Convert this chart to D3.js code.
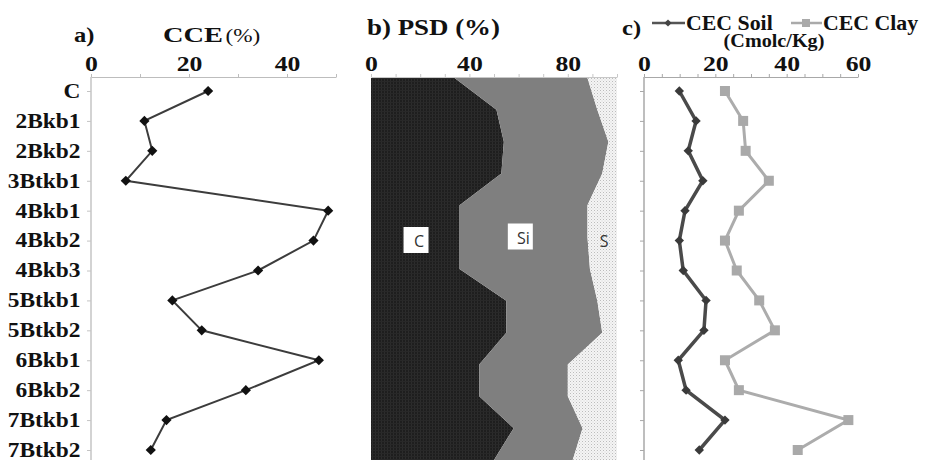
<!DOCTYPE html>
<html>
<head>
<meta charset="utf-8">
<script src="https://cdn.jsdelivr.net/npm/d3@7"></script>
<style>
  html, body { margin: 0; padding: 0; background: #fff; }
  svg { display: block; }
  .lbl { font-family: "Liberation Serif", "Times New Roman", serif; font-weight: bold; fill: #111; }
</style>
</head>
<body>
<svg id="chart" width="928" height="460"></svg>
<script>
// Soil horizons (depth order, top to bottom)
const horizons = ["C", "2Bkb1", "2Bkb2", "3Btkb1", "4Bkb1", "4Bkb2", "4Bkb3",
                  "5Btkb1", "5Btkb2", "6Bkb1", "6Bkb2", "7Btkb1", "7Btkb2"];

// a) Calcium carbonate equivalent (%)
const cce = [23.9, 10.9, 12.5, 7.1, 48.4, 45.4, 34.1, 16.6, 22.6, 46.5, 31.6, 15.4, 12.2];

// b) Particle size distribution (%): clay, silt, sand
const clay = [34, 51, 54, 53, 36, 36, 36, 55, 55, 44, 44, 58, 50];
const silt = [54, 41, 42.5, 41, 52, 52, 53, 37, 39, 36, 36, 28, 32];
const sand = [12, 8, 3.5, 6, 12, 12, 11, 8, 6, 20, 20, 14, 18];
const psdKeys = ["C", "Si", "S"];

// c) Cation exchange capacity (Cmolc/Kg)
const cecSoil = [9.9, 14.6, 12.4, 16.5, 11.5, 9.9, 11.0, 17.4, 16.8, 9.6, 11.8, 22.7, 15.5];
const cecClay = [22.7, 27.8, 28.5, 35.0, 26.6, 22.7, 26.0, 32.3, 36.7, 22.7, 26.6, 57.3, 43.1];

// Tick values
const cceTicks = [0, 10, 20, 30, 40, 50];
const psdTicks = [0, 10, 20, 30, 40, 50, 60, 70, 80, 90, 100];
const cecTicks = [0, 5, 10, 15, 20, 25, 30, 35, 40, 45, 50, 55, 60];

const SX = 1.17;             // horizontal stretch applied to serif labels
const svg = d3.select("#chart");
const defs = svg.append("defs");

// textures for the stacked areas
const pClay = defs.append("pattern").attr("id", "pClay")
  .attr("patternUnits", "userSpaceOnUse").attr("width", 3).attr("height", 3);
pClay.append("rect").attr("width", 3).attr("height", 3).attr("fill", "#1e1e1e");
pClay.append("rect").attr("width", 1).attr("height", 3).attr("fill", "#2c2c2c");
pClay.append("rect").attr("width", 3).attr("height", 1).attr("fill", "#282828");

const pSand = defs.append("pattern").attr("id", "pSand")
  .attr("patternUnits", "userSpaceOnUse").attr("width", 3).attr("height", 3);
pSand.append("rect").attr("width", 3).attr("height", 3).attr("fill", "#f4f4f4");
pSand.append("rect").attr("x", 0).attr("y", 0).attr("width", 1).attr("height", 1).attr("fill", "#bcbcbc");
pSand.append("rect").attr("x", 1.5).attr("y", 1.5).attr("width", 1).attr("height", 1).attr("fill", "#d4d4d4");

function label(sel, x, y, str, size, anchor, sx) {
  return sel.append("text")
    .attr("class", "lbl")
    .attr("transform", `translate(${x},${y}) scale(${sx || SX},1)`)
    .attr("text-anchor", anchor || "start")
    .attr("font-size", size)
    .text(str);
}

function styleTopAxis(g, color) {
  g.select(".domain").attr("stroke", color);
  g.selectAll(".tick line").attr("stroke", color);
  g.selectAll(".tick text")
    .attr("class", "lbl")
    .attr("font-size", 22)
    .attr("fill", "#111")
    .attr("transform", `scale(${SX},1)`);
}

const AXIS_Y = 77;
const rowY = d3.scalePoint().domain(horizons).range([91, 450]);

// ---------- a) CCE ----------
const xA = d3.scaleLinear().domain([0, 50]).range([91, 336]);

label(svg, 74, 42, "a)", 21);
const tA = svg.append("text").attr("class", "lbl")
  .attr("transform", `translate(163,42) scale(${SX + 0.12},1)`).attr("font-size", 22);
tA.append("tspan").text("CCE");
tA.append("tspan").attr("font-weight", "normal").attr("font-size", 18).attr("dx", 2).text("(%)");

svg.append("g").attr("transform", `translate(0,${AXIS_Y})`)
  .call(d3.axisTop(xA).tickValues(cceTicks).tickSize(3).tickSizeOuter(0).tickPadding(3)
    .tickFormat(d => d % 20 === 0 ? d : ""))
  .call(g => styleTopAxis(g, "#bdbdbd"));

svg.append("line").attr("x1", 91).attr("x2", 91).attr("y1", AXIS_Y).attr("y2", 470)
  .attr("stroke", "#c4c4c4").attr("stroke-width", 1.5);

const yAxA = svg.append("g").attr("transform", "translate(91,0)")
  .call(d3.axisLeft(rowY).tickSize(4).tickSizeOuter(0).tickPadding(5));
yAxA.select(".domain").remove();
yAxA.selectAll(".tick line").attr("stroke", "#c4c4c4");
yAxA.selectAll(".tick text").attr("class", "lbl").attr("font-size", 20).attr("fill", "#111")
  .attr("transform", `scale(${SX},1)`);

const lineA = d3.line().x(d => xA(d.v)).y(d => rowY(d.h));
const ptsA = horizons.map((h, i) => ({ h, v: cce[i] }));
svg.append("path").datum(ptsA).attr("d", lineA)
  .attr("fill", "none").attr("stroke", "#3c3c3c").attr("stroke-width", 2);
svg.append("g").selectAll("path").data(ptsA).join("path")
  .attr("transform", d => `translate(${xA(d.v)},${rowY(d.h)}) rotate(45)`)
  .attr("d", d3.symbol(d3.symbolSquare, 52)())
  .attr("fill", "#111");

// ---------- b) PSD ----------
const xB = d3.scaleLinear().domain([0, 100]).range([371, 617]);
const yB = d3.scalePoint().domain(horizons).range([78, 460]);

label(svg, 367, 35, "b) PSD (%)", 23);

const psdRows = horizons.map((h, i) => ({ h, C: clay[i], Si: silt[i], S: sand[i] }));
const stack = d3.stack().keys(psdKeys)(psdRows);
const fills = { C: "url(#pClay)", Si: "#7f7f7f", S: "url(#pSand)" };
const areaB = d3.area()
  .y(d => yB(d.data.h))
  .x0(d => xB(d[0]))
  .x1(d => xB(d[1]));

svg.append("g").selectAll("path").data(stack).join("path")
  .attr("d", areaB)
  .attr("fill", d => fills[d.key]);

svg.append("g").attr("transform", `translate(0,${AXIS_Y})`)
  .call(d3.axisTop(xB).tickValues(psdTicks).tickSize(3).tickSizeOuter(0).tickPadding(3)
    .tickFormat(d => d % 40 === 0 && d < 100 ? d : ""))
  .call(g => styleTopAxis(g, "#c8c8c8"));

// series name tags inside the areas
const tags = [
  { k: "C",  x: xB(18.3), y: 240, box: true },
  { k: "Si", x: xB(60.7), y: 236.5, box: true },
  { k: "S",  x: xB(93.6), y: 240, box: false }
];
const tagG = svg.append("g");
tags.forEach(t => {
  if (t.box) {
    tagG.append("rect").attr("x", t.x - 12.5).attr("y", t.y - 13)
      .attr("width", 25).attr("height", 26).attr("fill", "#fff");
  }
  tagG.append("text").attr("x", t.x + 3).attr("y", t.y + 7)
    .attr("text-anchor", "middle")
    .attr("font-family", "'Open Sans', 'DejaVu Sans', sans-serif")
    .attr("font-size", 16).attr("fill", "#333").text(t.k);
});

// ---------- c) CEC ----------
const xC = d3.scaleLinear().domain([0, 60]).range([644, 858]);

label(svg, 622, 35, "c)", 21);

// legend
const legSoil = svg.append("g");
legSoil.append("line").attr("x1", 652).attr("x2", 685).attr("y1", 23).attr("y2", 23)
  .attr("stroke", "#555").attr("stroke-width", 2.5);
legSoil.append("path").attr("transform", "translate(668,23) rotate(45)")
  .attr("d", d3.symbol(d3.symbolSquare, 26)()).attr("fill", "#444");
label(svg, 686, 30, "CEC Soil", 21, "start", 1.04);

const legClay = svg.append("g");
legClay.append("line").attr("x1", 791).attr("x2", 822).attr("y1", 23).attr("y2", 23)
  .attr("stroke", "#aaa").attr("stroke-width", 2.5);
legClay.append("rect").attr("x", 802).attr("y", 19).attr("width", 8).attr("height", 8).attr("fill", "#aaa");
label(svg, 823, 30, "CEC Clay", 21, "start", 1.04);

label(svg, 774, 47, "(Cmolc/Kg)", 18, "middle", 1.12);

svg.append("g").attr("transform", `translate(0,${AXIS_Y})`)
  .call(d3.axisTop(xC).tickValues(cecTicks).tickSize(3).tickSizeOuter(0).tickPadding(3)
    .tickFormat(d => d % 20 === 0 ? d : ""))
  .call(g => styleTopAxis(g, "#a8a8a8"));

svg.append("line").attr("x1", 644).attr("x2", 644).attr("y1", AXIS_Y).attr("y2", 470)
  .attr("stroke", "#a8a8a8").attr("stroke-width", 1.5);
const yAxC = svg.append("g").attr("transform", "translate(644,0)")
  .call(d3.axisLeft(rowY).tickSize(4).tickSizeOuter(0).tickFormat(""));
yAxC.select(".domain").remove();
yAxC.selectAll(".tick line").attr("stroke", "#a8a8a8");

const lineC = d3.line().x(d => xC(d.v)).y(d => rowY(d.h));
const ptsClay = horizons.map((h, i) => ({ h, v: cecClay[i] }));
const ptsSoil = horizons.map((h, i) => ({ h, v: cecSoil[i] }));

svg.append("path").datum(ptsClay).attr("d", lineC)
  .attr("fill", "none").attr("stroke", "#acacac").attr("stroke-width", 3);
svg.append("g").selectAll("rect").data(ptsClay).join("rect")
  .attr("x", d => xC(d.v) - 5).attr("y", d => rowY(d.h) - 5)
  .attr("width", 10).attr("height", 10).attr("fill", "#a9a9a9");

svg.append("path").datum(ptsSoil).attr("d", lineC)
  .attr("fill", "none").attr("stroke", "#4a4a4a").attr("stroke-width", 3.5);
svg.append("g").selectAll("path").data(ptsSoil).join("path")
  .attr("transform", d => `translate(${xC(d.v)},${rowY(d.h)}) rotate(45)`)
  .attr("d", d3.symbol(d3.symbolSquare, 44)())
  .attr("fill", "#3a3a3a");
</script>
</body>
</html>
